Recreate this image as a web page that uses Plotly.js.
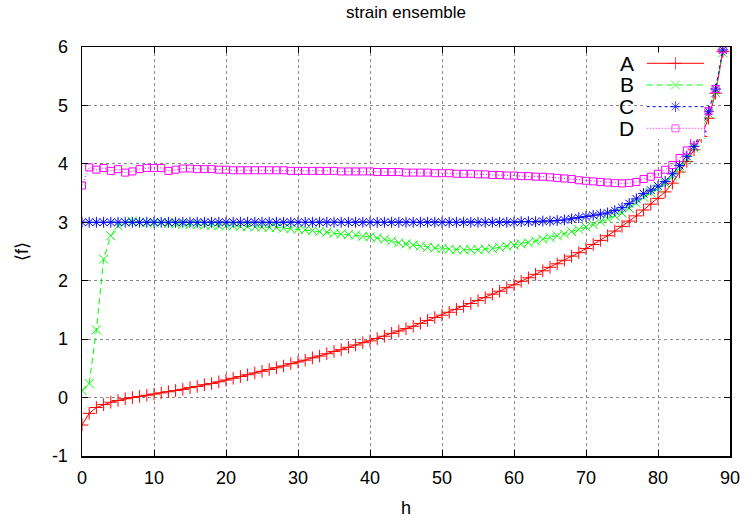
<!DOCTYPE html>
<html>
<head>
<meta charset="utf-8">
<script src="https://cdn.plot.ly/plotly-3.0.1.min.js"></script>
<style>html,body{margin:0;padding:0;background:#fff;}#chart{width:746px;height:518px;}</style>
</head>
<body>
<div id="chart"></div>
<script>
// h = 0..89
var h = [];
for (var i = 0; i <= 89; i++) h.push(i);

var seriesNames = ["A", "B", "C", "D"];

var valuesA = [-0.47,-0.27,-0.17,-0.12,-0.08,-0.05,-0.02,0.00,0.02,0.04,
  0.06,0.08,0.10,0.12,0.14,0.17,0.19,0.22,0.24,0.27,
  0.30,0.33,0.36,0.39,0.42,0.45,0.48,0.51,0.54,0.58,
  0.61,0.64,0.68,0.71,0.75,0.79,0.82,0.86,0.90,0.94,
  0.97,1.01,1.05,1.10,1.14,1.18,1.22,1.27,1.32,1.37,
  1.41,1.46,1.51,1.56,1.61,1.66,1.71,1.77,1.82,1.88,
  1.93,1.99,2.05,2.11,2.17,2.23,2.29,2.35,2.42,2.48,
  2.55,2.62,2.69,2.77,2.85,2.93,3.02,3.11,3.21,3.31,
  3.41,3.52,3.67,3.86,4.04,4.24,4.47,4.78,5.21,5.92];

var valuesB = [0.12,0.24,1.16,2.37,2.77,2.94,3.00,3.02,3.00,2.99,
  2.99,2.99,2.98,2.97,2.97,2.96,2.96,2.95,2.95,2.94,
  2.94,2.94,2.93,2.93,2.92,2.92,2.91,2.91,2.90,2.89,
  2.88,2.87,2.86,2.84,2.83,2.81,2.80,2.79,2.78,2.76,
  2.75,2.73,2.71,2.68,2.65,2.63,2.61,2.59,2.57,2.56,
  2.55,2.54,2.53,2.53,2.53,2.53,2.54,2.55,2.57,2.59,
  2.61,2.63,2.65,2.68,2.71,2.74,2.77,2.80,2.84,2.88,
  2.92,2.96,3.01,3.06,3.11,3.16,3.24,3.33,3.43,3.51,
  3.58,3.67,3.79,3.93,4.09,4.27,4.50,4.86,5.22,5.90];

var valuesC = [3.00,3.00,3.00,3.00,3.00,3.00,3.00,3.00,3.00,3.00,
  3.00,3.00,3.00,3.00,3.00,3.00,3.00,3.00,3.00,3.00,
  3.00,3.00,3.00,3.00,3.00,3.00,3.00,3.00,3.00,3.00,
  3.00,3.00,3.00,3.00,3.00,3.00,3.00,3.00,3.00,3.00,
  3.00,3.00,3.00,3.00,3.00,3.00,3.00,3.00,3.00,3.00,
  3.00,3.00,3.00,3.00,3.00,3.00,3.00,3.00,3.00,3.00,
  3.00,3.01,3.01,3.01,3.02,3.02,3.03,3.04,3.06,3.08,
  3.10,3.12,3.14,3.16,3.20,3.25,3.32,3.40,3.49,3.55,
  3.62,3.70,3.83,3.97,4.13,4.30,4.55,4.90,5.28,5.95];

var valuesD = [3.63,3.94,3.90,3.93,3.88,3.91,3.85,3.87,3.91,3.93,
  3.93,3.93,3.88,3.90,3.92,3.92,3.91,3.91,3.91,3.90,
  3.90,3.89,3.89,3.89,3.89,3.89,3.89,3.89,3.89,3.88,
  3.88,3.88,3.88,3.88,3.88,3.88,3.87,3.87,3.87,3.87,
  3.87,3.86,3.86,3.86,3.86,3.85,3.85,3.85,3.85,3.84,
  3.84,3.84,3.83,3.83,3.83,3.82,3.82,3.81,3.81,3.80,
  3.80,3.79,3.79,3.78,3.78,3.77,3.76,3.75,3.74,3.72,
  3.71,3.70,3.69,3.68,3.67,3.665,3.67,3.69,3.74,3.78,
  3.83,3.90,3.98,4.10,4.23,4.40,4.59,4.90,5.28,5.96];

var xTicks = [0,10,20,30,40,50,60,70,80,90];
var yTicks = [-1,0,1,2,3,4,5,6];

var colors = ["#ff0000", "#00ff00", "#0000ff", "#ff00ff"];
var symbols = ["cross-thin-open", "x-thin-open", "asterisk-open", "square-open"];
var sizes = [9, 9, 9, 7];
var dashes = ["solid", "6px,4px", "3px,3px", "1px,2px"];
var allValues = [valuesA, valuesB, valuesC, valuesD];
var fam = "Liberation Sans, Arial, sans-serif";

var traces = [];
for (var s = 0; s < 4; s++) {
  traces.push({
    x: h, y: allValues[s], type: "scatter", mode: "lines+markers",
    name: seriesNames[s], showlegend: false,
    line: {color: colors[s], width: 1, dash: dashes[s]},
    marker: {symbol: symbols[s], size: sizes[s], color: colors[s], line: {color: colors[s], width: 1}},
    hoverinfo: "skip"
  });
}
// legend samples on a hidden auxiliary axis (gnuplot-style key: label left, sample right)
var annotations = [];
var rowPaper = [0.9601, 0.9071, 0.8541, 0.8012];
for (var s = 0; s < 4; s++) {
  traces.push({
    x: [0, 0.5, 1], y: [3.5 - s, 3.5 - s, 3.5 - s], xaxis: "x2", yaxis: "y2",
    type: "scatter", mode: "lines+markers", showlegend: false, hoverinfo: "skip",
    line: {color: colors[s], width: 1, dash: dashes[s]},
    marker: {symbol: symbols[s], size: [0, sizes[s], 0], color: colors[s], line: {color: colors[s], width: 1}}
  });
  annotations.push({
    xref: "paper", yref: "paper", x: 0.855, y: rowPaper[s],
    xanchor: "right", yanchor: "middle", showarrow: false,
    text: seriesNames[s], font: {family: fam, size: 21, color: "#000"}
  });
}

var axisFont = {family: fam, size: 18, color: "#000"};
var layout = {
  width: 746, height: 518,
  margin: {l: 82, r: 16, t: 47, b: 62, pad: 0},
  paper_bgcolor: "#fff", plot_bgcolor: "#fff",
  showlegend: false,
  title: {text: "strain ensemble", x: 0.5, xref: "paper", y: 0.977, yanchor: "middle",
    font: {family: fam, size: 17, color: "#000"}},
  xaxis: {
    range: [0, 90], tickvals: xTicks, ticktext: xTicks.map(String),
    showgrid: true, gridcolor: "#888", griddash: "dot", gridwidth: 1,
    zeroline: false, showline: true, linecolor: "#000", linewidth: 1.5, mirror: "ticks",
    ticks: "inside", ticklen: 6, tickcolor: "#000", tickwidth: 1,
    tickfont: axisFont, ticklabelstandoff: 5,
    title: {text: "h", font: {family: fam, size: 18, color: "#000"}, standoff: 18}
  },
  yaxis: {
    range: [-1, 6], tickvals: yTicks, ticktext: yTicks.map(String),
    showgrid: true, gridcolor: "#888", griddash: "dot", gridwidth: 1,
    zeroline: false, showline: true, linecolor: "#000", linewidth: 1.5, mirror: "ticks",
    ticks: "inside", ticklen: 6, tickcolor: "#000", tickwidth: 1,
    tickfont: axisFont, ticklabelstandoff: 9,
    title: {text: "⟨f⟩", font: {family: fam, size: 18, color: "#000"}, standoff: 18}
  },
  xaxis2: {domain: [0.8714, 0.9603], range: [0, 1], anchor: "y2", visible: false, fixedrange: true},
  yaxis2: {domain: [0.7747, 0.9866], range: [0, 4], anchor: "x2", visible: false, fixedrange: true},
  annotations: annotations
};

Plotly.newPlot("chart", traces, layout, {displayModeBar: false, staticPlot: true});
</script>
</body>
</html>
